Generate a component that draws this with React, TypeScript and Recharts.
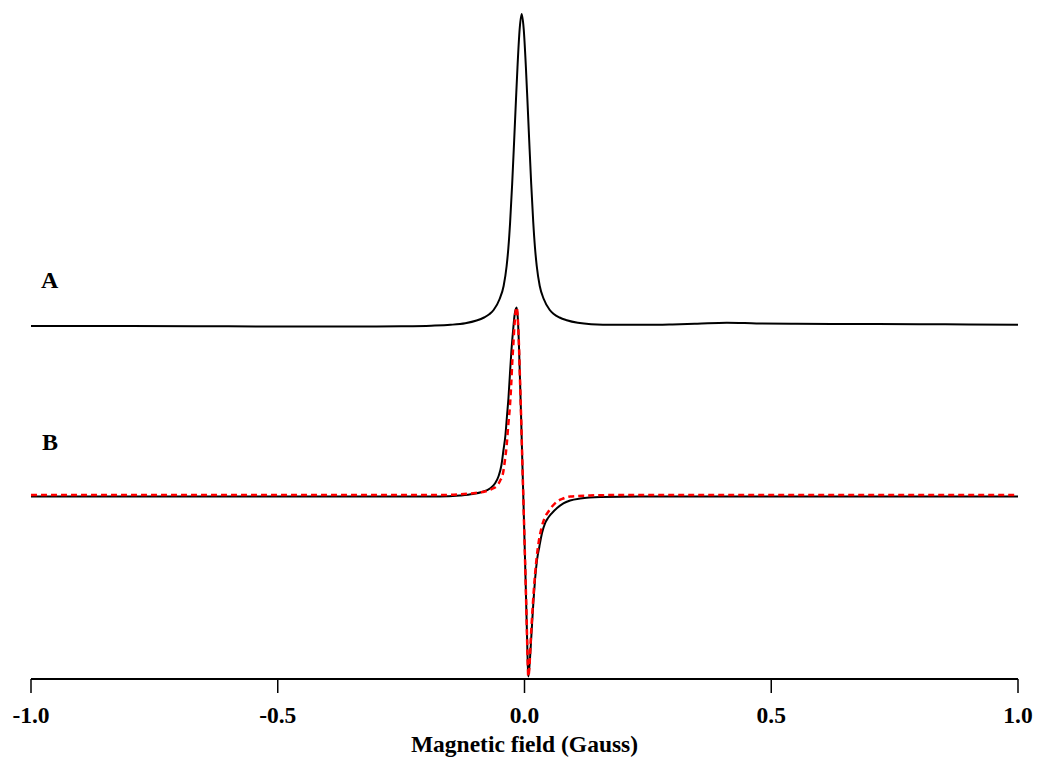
import { LineChart, Line, XAxis, YAxis, Label, Customized } from 'recharts';

// trace A (absorption), field in Gauss, signal in arbitrary units
const fieldA = [
  -1.0, -0.8, -0.6, -0.4, -0.3, -0.25, -0.189, -0.15, -0.12, -0.0971, -0.082, -0.0707,
  -0.0626, -0.0504, -0.0423, -0.0362, -0.0327, -0.0291, -0.025, -0.0209, -0.0173,
  -0.0142, -0.0098, -0.0057, -0.0016, 0.0028, 0.0059, 0.0095, 0.0136, 0.0177, 0.0213,
  0.0248, 0.0309, 0.039, 0.0512, 0.0593, 0.071, 0.0857, 0.108, 0.135, 0.183, 0.25,
  0.3, 0.35, 0.41, 0.47, 0.55, 0.65, 0.8, 0.9, 1.0,
];
const signalA = [
  0, 0, -0.3, -0.6, -0.5, -0.3, 0.3, 1.2, 2.8, 5.5, 8.5, 12,
  16, 27, 40, 60, 78, 104, 142, 186, 226,
  259, 297, 312, 297, 259, 226, 186, 142, 104, 78,
  60, 40, 27, 16, 12, 8.5, 5.8, 3.2, 1.8, 1.2, 1.2,
  1.6, 2.3, 3.3, 2.6, 2.2, 2.0, 1.8, 1.5, 1.3,
];

// trace B (first derivative), experimental
const fieldB = [
  -1.0, -0.659, -0.25, -0.1716, -0.131, -0.1046, -0.0863, -0.07, -0.0599, -0.0528,
  -0.0467, -0.0426, -0.0386, -0.0355, -0.0325, -0.0294, -0.0264, -0.0227, -0.0198,
  -0.0158, -0.0136, -0.0116, -0.0091, -0.0067, -0.0045, -0.0022, 0, 0.0022, 0.0043,
  0.0061, 0.0077, 0.0097, 0.0122, 0.0146, 0.0179, 0.0213, 0.0254, 0.0301, 0.0355,
  0.0416, 0.0477, 0.0552, 0.066, 0.0788, 0.0924, 0.1127, 0.1533, 0.2345, 0.3563,
  0.6, 1.0,
];
const signalB = [
  0, 0, 0, 0, 1, 2.5, 4.5, 8, 13, 20,
  31.5, 46.5, 61.5, 80.5, 98.5, 123.5, 146.5, 168.5, 182.5,
  189, 178.5, 156.5, 116.5, 76.5, 36.5, -3.5, -43.5, -83.5, -123.5,
  -158.5, -180, -171.5, -153.5, -133.5, -106.5, -83.5, -63.5, -50.2, -36.5,
  -26.8, -21.5, -16.8, -11.5, -6.8, -4, -2, -0.5, 0, 0,
  0, 0,
];

// trace B, simulated fit (red dashed)
const fieldFit = [
  -1.0, -0.5, -0.1716, -0.1107, -0.0802, -0.066, -0.0564, -0.0497, -0.043, -0.0396,
  -0.0361, -0.0329, -0.0294, -0.027, -0.0248, -0.0227, -0.0207, -0.0183, -0.0158,
  -0.0136, -0.0116, -0.0091, -0.0067, -0.0045, -0.0022, 0, 0.0022, 0.0043, 0.0061,
  0.0077, 0.0102, 0.0126, 0.0152, 0.0179, 0.0213, 0.0248, 0.0294, 0.0349, 0.0416,
  0.0483, 0.0558, 0.0654, 0.0782, 0.0924, 0.133, 0.1939, 0.5, 1.0,
];
const signalFit = [
  1.5, 1.5, 1.5, 3, 5, 7.5, 10.5, 15.5, 24.8, 36.5,
  51.5, 71.5, 91.5, 111.5, 134.5, 151.5, 168.5, 183.5, 189,
  178.5, 156.5, 116.5, 76.5, 36.5, -3.5, -43.5, -83.5, -123.5, -158.5,
  -180, -168.5, -143.5, -121.5, -100.5, -78.5, -60.5, -43.5, -30.5, -20.5,
  -15.2, -10, -5.2, -2, 0, 1, 1.5, 1.5, 1.5,
];

const xTicks = [-1.0, -0.5, 0.0, 0.5, 1.0];

// vertical offsets used to stack the two spectra
const OFFSET_A = 353;
const OFFSET_B = 182.5;

const build = (xs: number[], ys: number[], off: number) =>
  xs.map((x, i) => ({ x, y: ys[i] + off }));

const dataA = build(fieldA, signalA, OFFSET_A);
const dataB = build(fieldB, signalB, OFFSET_B);
const dataFit = build(fieldFit, signalFit, OFFSET_B);

const serif = '"Liberation Serif", "Times New Roman", serif';

const TraceLabels = () => (
  <g fontFamily={serif} fontWeight="bold" fontSize={24} fill="#000">
    <text x={41} y={288}>A</text>
    <text x={42} y={450}>B</text>
  </g>
);

export default function App() {
  return (
    <div style={{ position: 'absolute', left: 0, top: 0, background: '#fff' }}>
      <LineChart width={1037} height={757} margin={{ top: 8, right: 19, left: 31, bottom: 0 }}>
        <XAxis
          dataKey="x"
          type="number"
          domain={[-1, 1]}
          ticks={xTicks}
          allowDataOverflow
          height={78}
          tickFormatter={(v: number) => v.toFixed(1)}
          tick={{ fontSize: 23.5, fontWeight: 'bold', fontFamily: serif, fill: '#000' }}
          tickSize={14}
          tickMargin={13}
          axisLine={{ stroke: '#000', strokeWidth: 2 }}
          tickLine={{ stroke: '#000', strokeWidth: 1.5 }}
        >
          <Label
            value="Magnetic field (Gauss)"
            position="insideBottom"
            offset={5}
            style={{ fontSize: 23.5, fontWeight: 'bold', fontFamily: serif, fill: '#000' }}
          />
        </XAxis>
        <YAxis type="number" domain={[0, 671]} hide allowDataOverflow />
        <Line data={dataA} dataKey="y" type="monotone" stroke="#000" strokeWidth={2} dot={false} isAnimationActive={false} />
        <Line data={dataB} dataKey="y" type="monotone" stroke="#000" strokeWidth={2} dot={false} isAnimationActive={false} />
        <Line data={dataFit} dataKey="y" type="monotone" stroke="#ff0000" strokeWidth={2.5} strokeDasharray="6 4" dot={false} isAnimationActive={false} />
        <Customized component={TraceLabels} />
      </LineChart>
    </div>
  );
}
